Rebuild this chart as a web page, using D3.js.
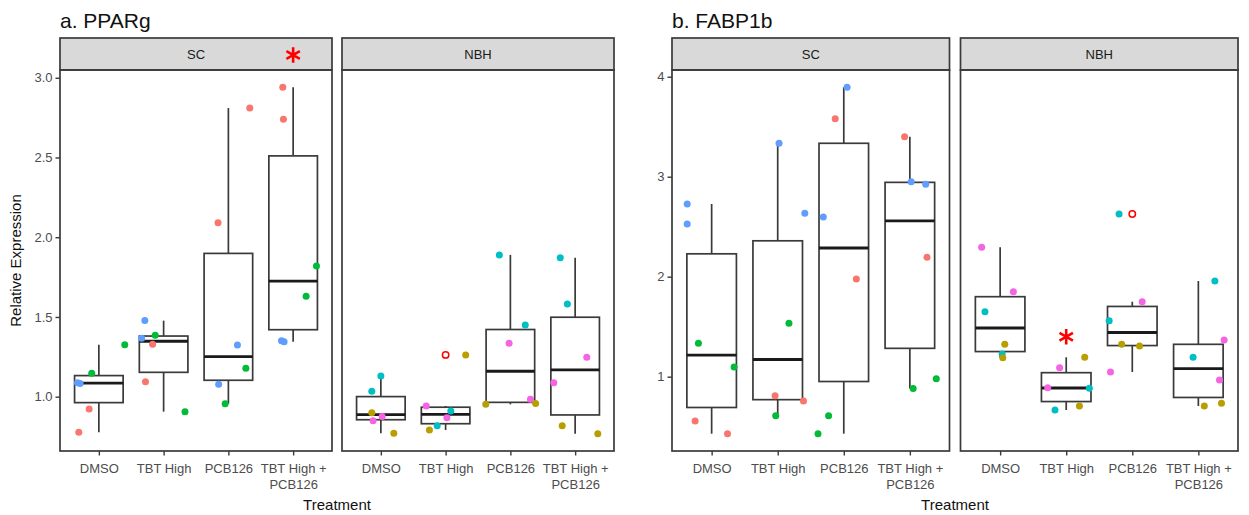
<!DOCTYPE html>
<html>
<head>
<meta charset="utf-8">
<script src="https://cdn.jsdelivr.net/npm/d3@7"></script>
<style>
  body { margin: 0; background: #fff; }
  svg text { font-family: "Liberation Sans", Arial, sans-serif; }
</style>
</head>
<body>
<div id="chart"></div>
<script>
// categories
const treatments = ["DMSO", "TBT High", "PCB126", "TBT High + PCB126"];
const sites = ["SC", "NBH"];
const groups = [1, 2, 3, 4, 5, 6];

// [treatment index, colour group, relative expression]
const ppargSC = [
  [0,5,1.088],[0,5,1.082],[0,3,1.147],[0,1,0.923],[0,1,0.777],[0,3,1.326],
  [1,5,1.477],[1,5,1.366],[1,1,1.329],[1,3,1.385],[1,1,1.094],[1,3,0.906],
  [2,1,2.81],[2,1,2.09],[2,5,1.324],[2,3,1.178],[2,5,1.078],[2,3,0.956],
  [3,1,2.94],[3,1,2.74],[3,3,1.82],[3,3,1.63],[3,5,1.35],[3,5,1.345]
];
const ppargNBH = [
  [0,4,1.13],[0,4,1.034],[0,2,0.90],[0,6,0.849],[0,6,0.875],[0,2,0.77],
  [1,2,1.262],[1,6,0.942],[1,4,0.91],[1,6,0.868],[1,4,0.818],[1,2,0.791],
  [2,4,1.889],[2,4,1.45],[2,6,1.335],[2,6,0.984],[2,2,0.952],[2,2,0.958],
  [3,4,1.872],[3,4,1.582],[3,6,1.247],[3,6,1.088],[3,2,0.818],[3,2,0.768]
];
const fabpSC = [
  [0,5,2.727],[0,5,2.527],[0,3,1.334],[0,3,1.097],[0,1,0.557],[0,1,0.43],
  [1,5,3.334],[1,5,2.634],[1,3,1.534],[1,1,0.81],[1,1,0.757],[1,3,0.61],
  [2,5,3.894],[2,1,3.58],[2,5,2.597],[2,1,1.977],[2,3,0.61],[2,3,0.43],
  [3,1,3.40],[3,5,2.95],[3,5,2.924],[3,1,2.194],[3,3,0.883],[3,3,0.98]
];
const fabpNBH = [
  [0,6,2.294],[0,6,1.85],[0,4,1.65],[0,2,1.324],[0,4,1.227],[0,2,1.19],
  [1,6,1.09],[1,2,1.194],[1,6,0.89],[1,4,0.884],[1,2,0.707],[1,4,0.667],
  [2,4,2.627],[2,6,1.75],[2,4,1.56],[2,2,1.324],[2,2,1.307],[2,6,1.047],
  [3,4,1.957],[3,6,1.367],[3,4,1.194],[3,6,0.967],[3,2,0.734],[3,2,0.707]
];

// horizontal jitter (in category units), same order as above
const ppargSCJitter = [-0.33,-0.29,-0.11,-0.15,-0.31,0.40, -0.29,-0.34,-0.17,-0.13,-0.28,0.33, 0.33,-0.16,0.14,0.27,-0.15,-0.05, -0.16,-0.15,0.36,0.20,-0.18,-0.14];
const ppargNBHJitter = [0.0,-0.14,-0.14,-0.12,0.02,0.20, 0.31,-0.30,0.08,0.02,-0.13,-0.25, -0.17,0.23,-0.02,0.31,-0.38,0.39, -0.23,-0.12,0.18,-0.33,-0.20,0.35];
const fabpSCJitter = [-0.37,-0.37,-0.20,0.34,-0.25,0.24, 0.02,0.41,0.17,-0.04,0.39,-0.03, 0.05,-0.13,-0.31,0.19,-0.23,-0.39, -0.08,0.02,0.24,0.26,0.05,0.40];
const fabpNBHJitter = [-0.28,0.20,-0.23,0.07,0.03,0.04, -0.10,0.28,-0.28,0.35,0.20,-0.17, -0.20,0.15,-0.35,-0.16,0.11,-0.33, 0.25,0.39,-0.08,0.32,0.35,0.09];

// tick labels
const ppargTicks = [1.0, 1.5, 2.0, 2.5, 3.0];
const fabpTicks = [1, 2, 3, 4];

// significance marks: [site, treatment index, value] (value null = in the strip)
const ppargStars = [["SC", 3, null]];
const fabpStars = [["NBH", 1, 1.4]];

const colour = d3.scaleOrdinal()
  .domain(groups)
  .range(["#F8766D", "#B79F00", "#00BA38", "#00BFC4", "#619CFF", "#F564E3"]);

const charts = [
  { title: "a. PPARg", left: 60, panelW: 272, gap: 10, data: { SC: [ppargSC, ppargSCJitter], NBH: [ppargNBH, ppargNBHJitter] },
    ticks: ppargTicks, fmt: d3.format(".1f"), stars: ppargStars, yTitle: "Relative Expression" },
  { title: "b. FABP1b", left: 672, panelW: 277.5, gap: 11, data: { SC: [fabpSC, fabpSCJitter], NBH: [fabpNBH, fabpNBHJitter] },
    ticks: fabpTicks, fmt: d3.format("d"), stars: fabpStars, yTitle: null }
];

const W = 1249, H = 515;
const stripTop = 38, panelTop = 70, panelBottom = 451;
const line = "#3A3A3A", tickText = "#4D4D4D";
const lw = 1.7;

const svg = d3.select("#chart").append("svg")
  .attr("width", W).attr("height", H);

function boxStats(vals) {
  const s = vals.slice().sort(d3.ascending);
  const q1 = d3.quantile(s, 0.25), med = d3.quantile(s, 0.5), q3 = d3.quantile(s, 0.75);
  const iqr = q3 - q1;
  const inside = s.filter(v => v >= q1 - 1.5 * iqr && v <= q3 + 1.5 * iqr);
  return { q1, med, q3, lo: d3.min(inside), hi: d3.max(inside),
           out: s.filter(v => v < q1 - 1.5 * iqr || v > q3 + 1.5 * iqr) };
}

charts.forEach(c => {
  const g = svg.append("g");
  const allVals = sites.flatMap(s => c.data[s][0].map(d => d[2]));
  const ext = d3.extent(allVals);
  const pad = (ext[1] - ext[0]) * 0.05;
  const y = d3.scaleLinear().domain([ext[0] - pad, ext[1] + pad]).range([panelBottom, panelTop]);

  g.append("text").attr("x", c.left).attr("y", 28)
    .attr("font-size", 21).attr("fill", "#111").text(c.title);

  sites.forEach((site, si) => {
    const x0 = c.left + si * (c.panelW + c.gap), x1 = x0 + c.panelW;
    const x = d3.scalePoint().domain(treatments).range([x0, x1]).padding(0.6);
    const step = x.step();
    const [rows, jit] = c.data[site];
    const p = g.append("g");

    // strip
    p.append("rect").attr("x", x0).attr("y", stripTop).attr("width", c.panelW).attr("height", panelTop - stripTop)
      .attr("fill", "#D9D9D9").attr("stroke", line).attr("stroke-width", lw);
    p.append("text").attr("x", (x0 + x1) / 2).attr("y", (stripTop + panelTop) / 2 + 4.5)
      .attr("text-anchor", "middle").attr("font-size", 13).attr("fill", "#1A1A1A").text(site);

    // boxes
    treatments.forEach((t, ti) => {
      const st = boxStats(rows.filter(d => d[0] === ti).map(d => d[2]));
      const cx = x(t), bw = step * 0.75;
      p.append("line").attr("x1", cx).attr("x2", cx).attr("y1", y(st.q3)).attr("y2", y(st.hi))
        .attr("stroke", line).attr("stroke-width", lw);
      p.append("line").attr("x1", cx).attr("x2", cx).attr("y1", y(st.q1)).attr("y2", y(st.lo))
        .attr("stroke", line).attr("stroke-width", lw);
      p.append("rect").attr("x", cx - bw / 2).attr("y", y(st.q3)).attr("width", bw).attr("height", y(st.q1) - y(st.q3))
        .attr("fill", "white").attr("stroke", line).attr("stroke-width", lw);
      p.append("line").attr("x1", cx - bw / 2).attr("x2", cx + bw / 2).attr("y1", y(st.med)).attr("y2", y(st.med))
        .attr("stroke", "#1A1A1A").attr("stroke-width", 2.8);
      st.out.forEach(v => {
        p.append("circle").attr("cx", cx).attr("cy", y(v)).attr("r", 3.2)
          .attr("fill", "none").attr("stroke", "red").attr("stroke-width", 1.5);
      });
    });

    // jittered points
    p.selectAll("circle.pt").data(rows).join("circle").attr("class", "pt")
      .attr("cx", (d, i) => x(treatments[d[0]]) + jit[i] * step)
      .attr("cy", d => y(d[2]))
      .attr("r", 3.5)
      .attr("fill", d => colour(d[1]));

    // panel border
    p.append("rect").attr("x", x0).attr("y", panelTop).attr("width", c.panelW).attr("height", panelBottom - panelTop)
      .attr("fill", "none").attr("stroke", line).attr("stroke-width", lw);

    // x axis
    const xa = p.append("g").attr("transform", `translate(0,${panelBottom})`)
      .call(d3.axisBottom(x).tickSize(4.5).tickPadding(4).tickFormat(""));
    xa.select(".domain").remove();
    xa.selectAll(".tick line").attr("stroke", line).attr("stroke-width", 1.4);
    xa.selectAll(".tick").each(function (t) {
      const parts = t === "TBT High + PCB126" ? ["TBT High +", "PCB126"] : [t];
      const tx = d3.select(this).append("text").attr("fill", tickText).attr("font-size", 13)
        .attr("text-anchor", "middle");
      parts.forEach((s, k) => tx.append("tspan").attr("x", 0).attr("y", 21.5 + k * 16).text(s));
    });

    // y axis on first panel
    if (si === 0) {
      const ya = p.append("g").attr("transform", `translate(${x0},0)`)
        .call(d3.axisLeft(y).tickValues(c.ticks).tickFormat(c.fmt).tickSize(4.5).tickPadding(3));
      ya.select(".domain").remove();
      ya.selectAll(".tick line").attr("stroke", line).attr("stroke-width", 1.4);
      ya.selectAll(".tick text").attr("fill", tickText).attr("font-size", 13)
        .attr("font-family", "Liberation Sans, Arial, sans-serif");
    }

    // significance stars
    c.stars.filter(s => s[0] === site).forEach(s => {
      const sy = s[2] === null ? (stripTop + panelTop) / 2 + 1 : y(s[2]);
      p.append("path").attr("d", d3.symbol(d3.symbolAsterisk, 170)())
        .attr("transform", `translate(${x(treatments[s[1]])},${sy})`)
        .attr("fill", "none").attr("stroke", "red").attr("stroke-width", 2.6);
    });
  });

  const xMid = c.left + c.panelW + c.gap / 2;
  g.append("text").attr("x", xMid).attr("y", 510).attr("text-anchor", "middle")
    .attr("font-size", 15).attr("fill", "#111").text("Treatment");
  if (c.yTitle) {
    g.append("text").attr("transform", `translate(21,${(panelTop + panelBottom) / 2}) rotate(-90)`)
      .attr("text-anchor", "middle").attr("font-size", 15).attr("fill", "#111").text(c.yTitle);
  }
});
</script>
</body>
</html>
